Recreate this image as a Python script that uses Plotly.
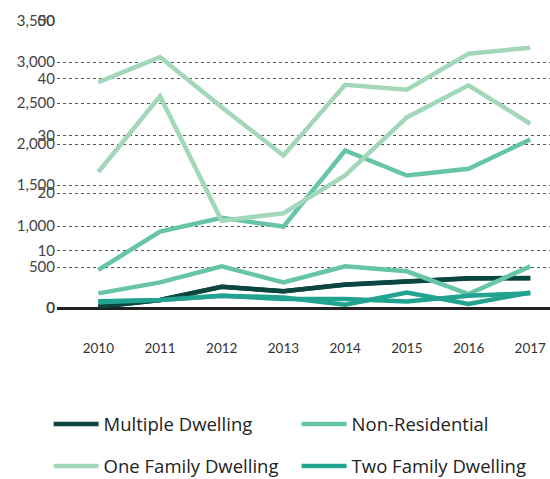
import plotly.graph_objects as go

years = ["2010", "2011", "2012", "2013", "2014", "2015", "2016", "2017"]

# primary axis (0-3,500)
multiple_a = [16, 98, 260, 203, 284, 325, 361, 366]
nonres_a = [464, 932, 1099, 993, 1921, 1615, 1697, 2055]
onefam_a = [2755, 3060, 2449, 1860, 2723, 2662, 3101, 3175]
twofam_a = [81, 98, 150, 129, 40, 190, 49, 190]

# secondary axis (0-50)
multiple_b = [0.2, 1.4, 3.7, 2.9, 4.1, 4.7, 5.2, 5.2]
nonres_b = [2.55, 4.47, 7.26, 4.47, 7.26, 6.39, 2.44, 7.26]
onefam_b = [23.7, 36.9, 15.2, 16.5, 23.1, 33.2, 38.8, 32.1]
twofam_b = [0.98, 1.4, 2.15, 1.57, 1.57, 1.15, 2.15, 2.55]

names = ["Multiple Dwelling", "Non-Residential", "One Family Dwelling", "Two Family Dwelling"]
colors = ["#0a4540", "#66c5a6", "#a2d8b9", "#21a38f"]
legend_ids = ["legend", "legend", "legend2", "legend2"]
series_a = [multiple_a, nonres_a, onefam_a, twofam_a]
series_b = [multiple_b, nonres_b, onefam_b, twofam_b]

fig = go.Figure()
for name, col, vals in zip(names, colors, series_b):
    fig.add_trace(go.Scatter(x=years, y=vals, mode="lines", name=name, yaxis="y2",
                             line=dict(color=col, width=4.5), showlegend=False,
                             hoverinfo="skip"))
for name, col, vals, lg in zip(names, colors, series_a, legend_ids):
    fig.add_trace(go.Scatter(x=years, y=vals, mode="lines", name=name, yaxis="y",
                             line=dict(color=col, width=4.5), showlegend=True, legend=lg))

legend_common = dict(orientation="h", xanchor="left", yanchor="middle",
                     entrywidth=188, entrywidthmode="pixels", traceorder="normal",
                     font=dict(size=18.5, color="#222", family="Open Sans, sans-serif"),
                     itemwidth=45, bgcolor="rgba(0,0,0,0)")

fig.update_layout(
    width=550, height=479,
    margin=dict(l=57, r=0, t=21, b=171.4, autoexpand=False),
    paper_bgcolor="white", plot_bgcolor="white",
    font=dict(family="Lato, sans-serif", color="#333"),
    xaxis=dict(range=[-0.67, 7.32], showgrid=False, zeroline=False, automargin=False,
               tickfont=dict(size=13.5, color="#333"), ticks="", ticklabelstandoff=30,
               showline=False),
    yaxis=dict(range=[0, 3500], tickvals=[0, 500, 1000, 1500, 2000, 2500, 3000, 3500],
               tickformat=",", showgrid=True, gridcolor="#555", griddash="dot", gridwidth=1,
               zeroline=True, zerolinecolor="#222", zerolinewidth=3, automargin=False,
               tickfont=dict(size=15, color="#444"), ticks="", ticklabelstandoff=1),
    yaxis2=dict(range=[0, 50], overlaying="y", side="left", anchor="x",
                tickvals=[0, 10, 20, 30, 40, 50], showgrid=True, gridcolor="#555",
                griddash="dot", gridwidth=1, zeroline=False, automargin=False,
                tickfont=dict(size=15, color="#444"), ticks="", ticklabelstandoff=1),
    legend=dict(x=-0.017, y=-0.406, **legend_common),
    legend2=dict(x=-0.017, y=-0.552, **legend_common),
    showlegend=True,
)

fig.write_html(
    "out.html",
    config={"displayModeBar": False},
    post_script="document.body.style.margin='0';document.body.style.overflow='hidden';",
)
